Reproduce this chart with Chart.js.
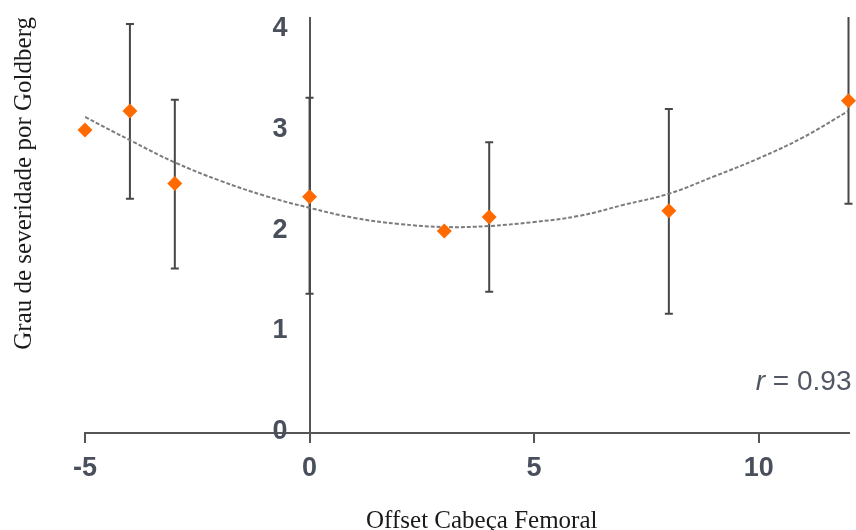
<!DOCTYPE html>
<html>
<head>
<meta charset="utf-8">
<script src="https://cdn.jsdelivr.net/npm/chart.js@4.4.0/dist/chart.umd.min.js"></script>
<style>
  html, body { margin: 0; padding: 0; background: #ffffff; }
  #wrap { width: 856px; height: 530px; }
</style>
</head>
<body>
<div id="wrap"><canvas id="chart" width="856" height="530"></canvas></div>
<script>
// Femoral head offset vs. Goldberg severity grade (mean ± error)
const offsets  = [-5, -4, -3, 0, 3, 4, 8, 12];
const severity = [3.00, 3.19, 2.47, 2.34, 2.00, 2.14, 2.20, 3.29];
const errLow   = [null, 2.32, 1.63, 1.38, null, 1.40, 1.18, 2.27];
const errHigh  = [null, 4.05, 3.30, 3.32, null, 2.88, 3.21, 4.31];

// Quadratic trend curve, sampled at each integer offset
const trendX = [-5, -4, -3, -2, -1, 0, 1, 2, 3, 4, 5, 6, 7, 8, 9, 10, 11, 12];
const trendY = [3.13, 2.90, 2.68, 2.50, 2.35, 2.23, 2.13, 2.07, 2.04, 2.05, 2.09, 2.15, 2.26, 2.37, 2.54, 2.72, 2.93, 3.19];

const xTicks = [-5, 0, 5, 10];
const yTicks = [0, 1, 2, 3, 4];

const xTitle = 'Offset Cabeça Femoral';
const yTitle = 'Grau de severidade por Goldberg';
const rText = 'r';
const rValue = ' = 0.93';

const tickFont = { family: '"Liberation Sans", Arial, sans-serif', size: 27, weight: 'bold' };
const tickColor = '#4a4f5c';
const axisColor = '#555555';

// Vertical error bars, clipped to the plot height
const errorBars = {
  id: 'errorBars',
  beforeDatasetsDraw(chart) {
    const { ctx, chartArea, scales: { x, y } } = chart;
    ctx.save();
    ctx.beginPath();
    ctx.rect(0, chartArea.top, chart.width, chartArea.bottom - chartArea.top);
    ctx.clip();
    ctx.strokeStyle = '#474747';
    ctx.lineWidth = 2;
    offsets.forEach((v, i) => {
      if (errLow[i] == null) return;
      const px = x.getPixelForValue(v);
      const lo = y.getPixelForValue(errLow[i]);
      const hi = y.getPixelForValue(errHigh[i]);
      ctx.beginPath();
      ctx.moveTo(px, lo); ctx.lineTo(px, hi);
      ctx.moveTo(px - 4, lo); ctx.lineTo(px + 4, lo);
      ctx.moveTo(px - 4, hi); ctx.lineTo(px + 4, hi);
      ctx.stroke();
    });
    ctx.restore();
  }
};

// Correlation note and horizontal axis caption
const captions = {
  id: 'captions',
  afterDraw(chart) {
    const { ctx, chartArea } = chart;
    ctx.save();
    ctx.fillStyle = '#525763';
    ctx.textBaseline = 'alphabetic';
    const numFont = '28px "Liberation Sans", Arial, sans-serif';
    const rFont = 'italic 28px "Liberation Sans", Arial, sans-serif';
    ctx.font = numFont;
    const wv = ctx.measureText(rValue).width;
    ctx.font = rFont;
    const wr = ctx.measureText(rText).width;
    const right = chartArea.right + 3;
    const base = chartArea.bottom - 43;
    ctx.textAlign = 'left';
    ctx.fillText(rText, right - wv - wr, base);
    ctx.font = numFont;
    ctx.fillText(rValue, right - wv, base);

    ctx.fillStyle = '#1a1a1a';
    ctx.font = '25px "Liberation Serif", "Times New Roman", serif';
    ctx.textAlign = 'center';
    ctx.fillText(xTitle, (chartArea.left + chartArea.right) / 2 + 15, chart.height - 2);
    ctx.restore();
  }
};

const noPad = s => { s.paddingTop = 0; s.paddingBottom = 0; s.paddingLeft = 0; s.paddingRight = 0; };

new Chart(document.getElementById('chart'), {
  type: 'scatter',
  data: {
    datasets: [
      {
        label: 'Grau',
        data: offsets.map((v, i) => ({ x: v, y: severity[i] })),
        pointStyle: 'rectRot',
        pointRadius: 7.5,
        pointHoverRadius: 7.5,
        backgroundColor: '#ff6a00',
        borderWidth: 0,
        clip: false,
        order: 1
      },
      {
        label: 'Tendência',
        data: trendX.map((v, i) => ({ x: v, y: trendY[i] })),
        showLine: true,
        borderColor: '#7c7c7c',
        borderWidth: 2,
        borderDash: [4, 2],
        pointRadius: 0,
        tension: 0.4,
        fill: false,
        order: 2
      }
    ]
  },
  options: {
    responsive: false,
    devicePixelRatio: 1,
    animation: false,
    layout: { padding: { left: 0, right: 5, top: 17, bottom: 0 } },
    plugins: { legend: { display: false }, tooltip: { enabled: false }, title: { display: false } },
    scales: {
      x: {
        type: 'linear',
        position: 'bottom',
        min: -5,
        max: 12,
        afterBuildTicks: s => { s.ticks = xTicks.map(v => ({ value: v })); },
        afterFit: s => { noPad(s); s.height = 97; },
        ticks: { font: tickFont, color: tickColor, padding: 9 },
        grid: {
          display: true,
          drawOnChartArea: true,
          // only the zero line is drawn across the plot: it is the vertical axis
          color: c => (c.tick && c.tick.value === 0) ? axisColor : 'rgba(0,0,0,0)',
          tickColor: axisColor,
          drawTicks: true,
          tickLength: 10,
          lineWidth: 2
        },
        border: { display: true, color: axisColor, width: 2 }
      },
      y: {
        type: 'linear',
        position: { x: -0.49 },
        min: 0,
        max: 4.12,
        afterBuildTicks: s => { s.ticks = yTicks.map(v => ({ value: v })); },
        afterFit: noPad,
        ticks: { font: tickFont, color: tickColor, padding: 0, labelOffset: -1 },
        grid: { display: false, drawTicks: false },
        border: { display: false }
      },
      yTitleAxis: {
        type: 'linear',
        position: 'left',
        min: 0,
        max: 1,
        afterFit: s => { noPad(s); s.width = 85; },
        ticks: { display: false },
        grid: { display: false, drawTicks: false },
        border: { display: false },
        title: {
          display: true,
          text: yTitle,
          align: 'end',
          color: '#1a1a1a',
          font: { family: '"Liberation Serif", "Times New Roman", serif', size: 25 },
          padding: { top: 9, bottom: 0 }
        }
      }
    }
  },
  plugins: [errorBars, captions]
});
</script>
</body>
</html>
